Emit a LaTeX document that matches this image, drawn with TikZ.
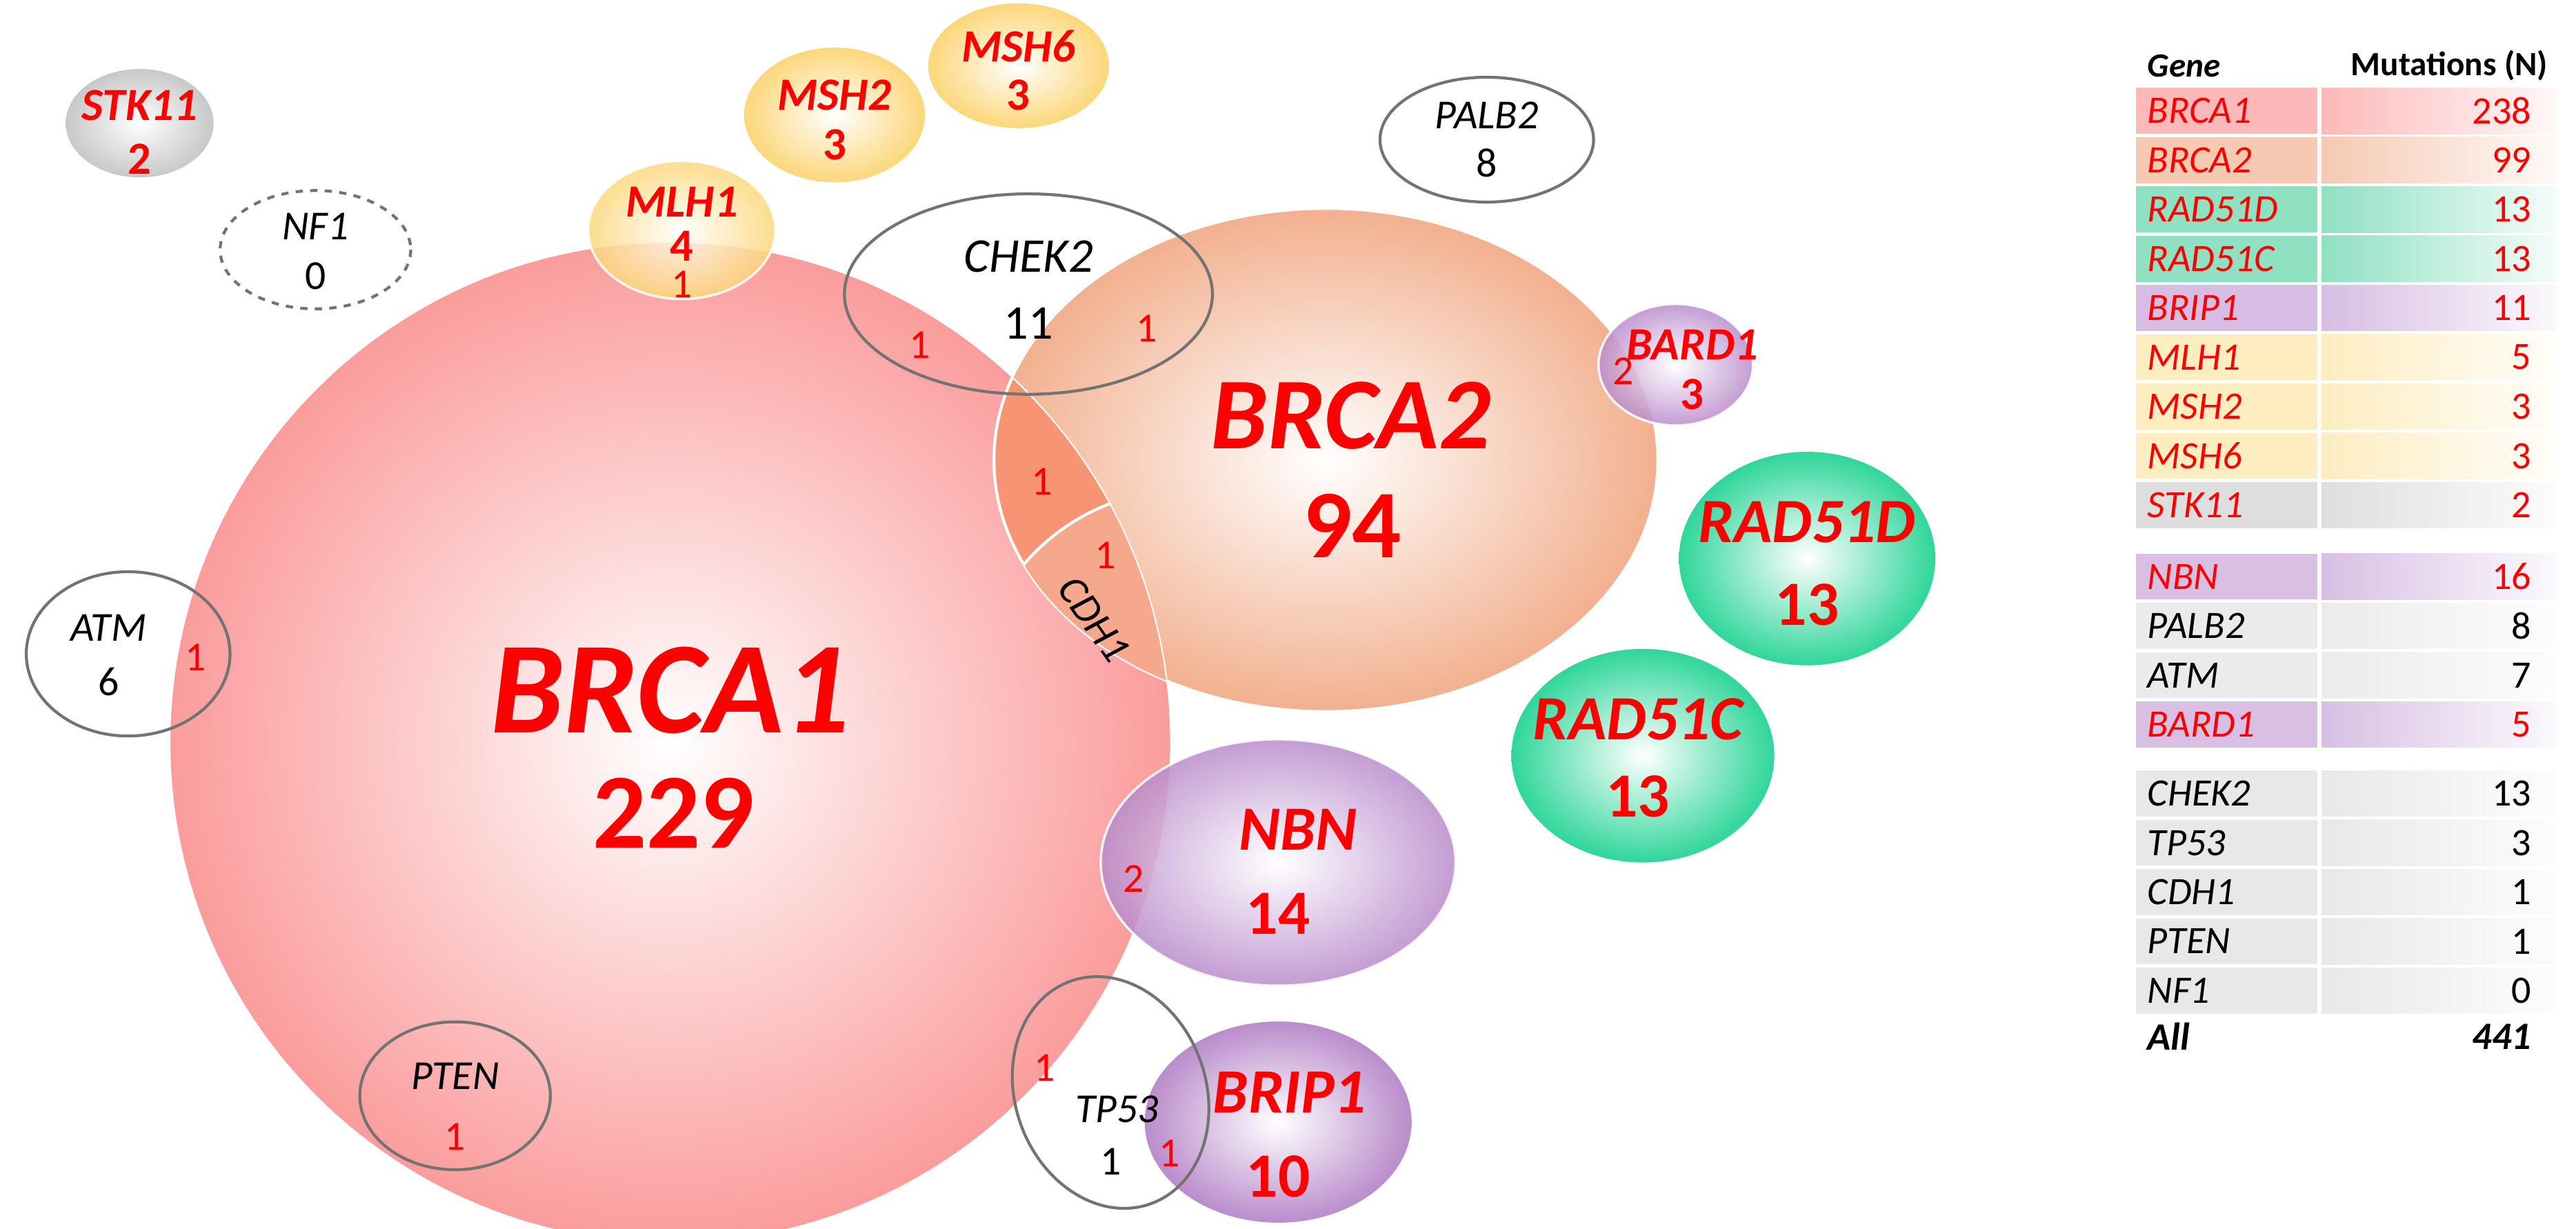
\documentclass[tikz,border=0pt]{standalone}
\usepackage{fontspec}
\setmainfont{Carlito}
\usetikzlibrary{positioning}
\definecolor{redtxt}{HTML}{FF0000}
\definecolor{pinkA}{HTML}{FB9C9C}
\definecolor{peachB}{HTML}{F2B08F}
\definecolor{lensA}{HTML}{F79473}
\definecolor{lensB}{HTML}{F6A88C}
\definecolor{greenR}{HTML}{2FD69A}
\definecolor{purpR}{HTML}{B98BCB}
\definecolor{yellR}{HTML}{FCD77A}
\definecolor{greyR}{HTML}{C8C8C8}
\tikzset{
  fs/.style={font=\fontsize{#1}{#1}\selectfont},
  big/.style={text=redtxt, fs=#1, font=\bfseries\itshape\fontsize{#1}{#1}\selectfont},
  num/.style={text=redtxt, font=\bfseries\fontsize{#1}{#1}\selectfont},
  plain/.style={text=black, font=\itshape\fontsize{#1}{#1}\selectfont},
  one/.style={text=redtxt, font=\fontsize{17}{17}\selectfont},
  ring/.style={draw=black!55, line width=1.2pt},
  blob/.style={draw=white, line width=1pt}
}
\begin{document}
\begin{tikzpicture}[x=0.02382cm, y=-0.02382cm]
  \useasboundingbox (0,0) rectangle (1568,748);
  % big sets
  \shade[blob, inner color=white, outer color=pinkA] (408,452) circle (305);
  \shade[blob, inner color=white, outer color=peachB] (807,280) ellipse (202 and 153);
  \begin{scope}
    \clip (408,452) circle (305);
    \fill[lensA, draw=white, line width=1.2pt] (807,280) ellipse (202 and 153);
    \clip (807,280) ellipse (202 and 153);
    \fill[lensB, draw=white, line width=1.2pt] (722,428) circle (130);
    \draw[white, line width=1.2pt] (408,452) circle (305);
  \end{scope}
  % small sets
  \shade[inner color=white, outer color=greyR] (85,75) ellipse (45 and 33);
  \draw[ring, dashed] (192,152) ellipse (58 and 36);
  \shade[blob, inner color=white, outer color=yellR, opacity=0.85] (415,140) ellipse (57 and 42);
  \shade[inner color=white, outer color=yellR] (508,70) ellipse (55 and 41);
  \shade[inner color=white, outer color=yellR] (620,40) ellipse (55 and 38);
  \draw[ring] (905,85) ellipse (65 and 38);
  \draw[ring] (626,179) ellipse (112 and 61);
  \shade[blob, inner color=white, outer color=purpR, opacity=0.85] (1020,222) ellipse (47 and 37);
  \shade[inner color=white, outer color=greenR] (1100,340) ellipse (78 and 65);
  \shade[inner color=white, outer color=greenR] (1000,460) ellipse (80 and 65);
  \shade[blob, inner color=white, outer color=purpR, opacity=0.85] (778,525) ellipse (108 and 75);
  \shade[blob, inner color=white, outer color=purpR] (778,683) ellipse (82 and 62);
  \draw[ring, rotate around={20:(676,665)}] (676,665) ellipse (58 and 72);
  \draw[ring] (277,667) ellipse (58 and 45);
  \draw[ring] (78,398) ellipse (62 and 50);
  % labels
  \node[big=54] (brcaA) at (408,420) {BRCA1};
  \node[num=44] (brcaAn) at (410,495) {229};
  \node[big=42] (brcaB) at (822,253) {BRCA2};
  \node[num=40] (brcaBn) at (823,320) {94};
  \node[one] (lensAn) at (634,293) {1};
  \node[one] (lensBn) at (673,338) {1};
  \node[plain=17, rotate=-55] (cdh) at (666,377) {CDH1};
  \node[big=19] (stk) at (85,64) {STK11};
  \node[num=19] (stkn) at (85,97) {2};
  \node[plain=17] (nf) at (192,138) {NF1};
  \node[fs=17] (nfn) at (192,168) {0};
  \node[big=19] (mlh) at (415,123) {MLH1};
  \node[num=19] (mlhn) at (415,150) {4};
  \node[one] (mlho) at (415,173) {1};
  \node[big=19] (msh2) at (508,58) {MSH2};
  \node[num=19] (msh2n) at (508,88) {3};
  \node[big=19] (msh6) at (620,28) {MSH6};
  \node[num=19] (msh6n) at (620,58) {3};
  \node[plain=17] (palb) at (905,70) {PALB2};
  \node[fs=17] (palbn) at (905,99) {8};
  \node[plain=20] (chek) at (626,156) {CHEK2};
  \node[fs=20] (chekn) at (626,197) {11};
  \node[one] (chekA) at (560,210) {1};
  \node[one] (chekB) at (698,200) {1};
  \node[big=19] (bard) at (1030,210) {BARD1};
  \node[num=19] (bardn) at (1030,240) {3};
  \node[one] (bardo) at (988,226) {2};
  \node[big=26] (radD) at (1100,318) {RAD51D};
  \node[num=26] (radDn) at (1100,368) {13};
  \node[big=26] (radC) at (997,438) {RAD51C};
  \node[num=26] (radCn) at (997,485) {13};
  \node[big=26] (nbn) at (790,505) {NBN};
  \node[num=26] (nbnn) at (778,556) {14};
  \node[one] (nbno) at (690,535) {2};
  \node[big=26] (brip) at (785,665) {BRIP1};
  \node[num=26] (bripn) at (778,716) {10};
  \node[one] (tpA) at (636,650) {1};
  \node[plain=17] (tp) at (680,675) {TP53};
  \node[fs=17] (tpn) at (676,707) {1};
  \node[one] (tpB) at (712,702) {1};
  \node[plain=17] (pten) at (277,655) {PTEN};
  \node[one] (ptenn) at (277,692) {1};
  \node[plain=17] (atm) at (66,382) {ATM};
  \node[fs=17] (atmn) at (66,415) {6};
  \node[one] (atmo) at (119,400) {1};
  % table
  \node[anchor=west, font=\bfseries\itshape\fontsize{14}{14}\selectfont] (hgene) at (1302,40) {Gene};
  \node[anchor=east, font=\bfseries\fontsize{14}{14}\selectfont] (hmut) at (1556,40) {Mutations (N)};
  \foreach \y/\g/\n/\c/\t in {53.5/BRCA1/238/FDB9B9/redtxt, 83.5/BRCA2/99/F5C9B2/redtxt,
      113.5/RAD51D/13/8FE1C2/redtxt, 143.5/RAD51C/13/8FE1C2/redtxt, 173.5/BRIP1/11/D7BDE3/redtxt,
      203.5/MLH1/5/FDEDC0/redtxt, 233.5/MSH2/3/FDEDC0/redtxt, 263.5/MSH6/3/FDEDC0/redtxt,
      293.5/STK11/2/DEDEDE/redtxt, 337/NBN/16/D8BFE3/redtxt, 367/PALB2/8/EBEBEB/black,
      397/ATM/7/EBEBEB/black, 427/BARD1/5/D8BFE3/redtxt, 469/CHEK2/13/E8E8E8/black,
      499/TP53/3/E8E8E8/black, 529/CDH1/1/E8E8E8/black, 559/PTEN/1/E8E8E8/black,
      589/NF1/0/E8E8E8/black} {
    \definecolor{rowc}{HTML}{\c}
    \fill[rowc] (1300,\y) rectangle (1410.5,\y+28);
    \shade[left color=rowc, right color=rowc!10] (1413,\y) rectangle (1556,\y+28);
    \node[anchor=west, text=\t, font=\itshape\fontsize{16}{16}\selectfont] (g-\g) at (1302,\y+14) {\g};
    \node[anchor=east, text=\t, font=\fontsize{16}{16}\selectfont] (n-\g) at (1546,\y+14) {\n};
  }
  \node[anchor=west, font=\bfseries\itshape\fontsize{16}{16}\selectfont] (gall) at (1302,631) {All};
  \node[anchor=east, font=\bfseries\itshape\fontsize{16}{16}\selectfont] (nall) at (1546,631) {441};
\end{tikzpicture}
\end{document}
